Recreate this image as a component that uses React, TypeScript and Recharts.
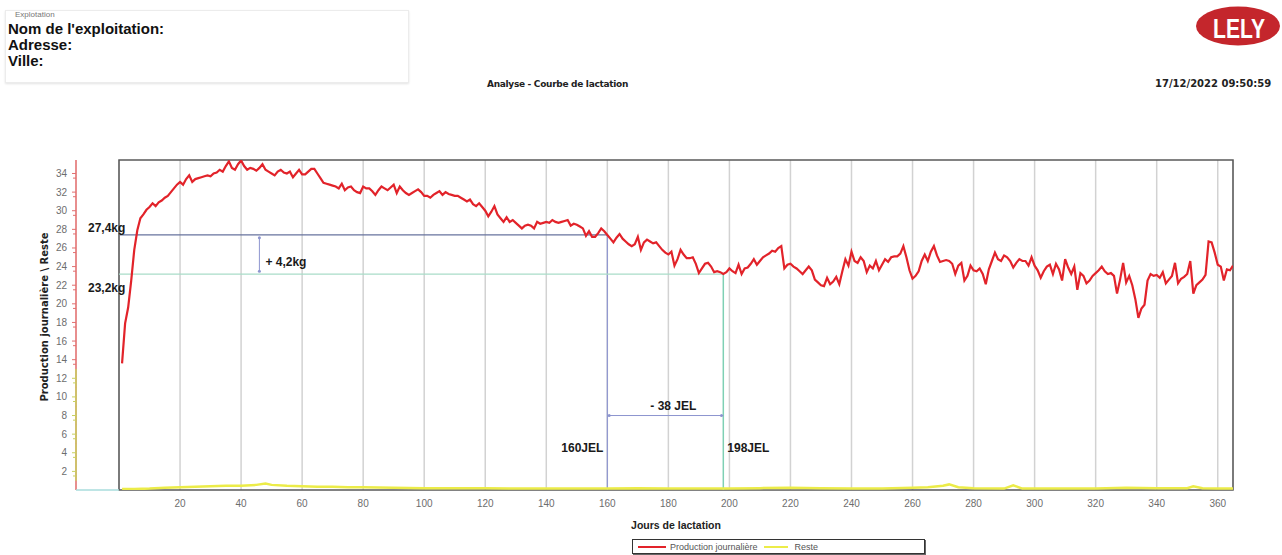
import React from "react";
import {
  CartesianGrid,
  Legend,
  Line,
  LineChart,
  ReferenceArea,
  ReferenceDot,
  ReferenceLine,
  XAxis,
  YAxis,
} from "recharts";

// daily production (kg), day 1 .. 365
const production = [
  13.6, 17.9, 19.6, 22.5, 25.8, 27.9, 29.2, 29.6, 30.1, 30.4,
  30.8, 30.5, 30.9, 31.1, 31.4, 31.6, 32.0, 32.4, 32.8, 33.1,
  32.8, 33.4, 33.8, 33.1, 33.4, 33.5, 33.6, 33.7, 33.8, 33.7,
  34.0, 34.1, 34.4, 34.2, 34.8, 35.3, 34.6, 34.4, 35.0, 35.4,
  34.8, 34.4, 34.6, 34.5, 34.3, 34.6, 35.0, 34.4, 34.2, 34.0,
  33.8, 34.2, 34.4, 34.1, 34.0, 34.2, 33.6, 34.0, 34.4, 33.9,
  33.9, 34.2, 34.5, 34.5, 34.0, 33.5, 33.0, 32.9, 32.8, 32.7,
  32.6, 32.4, 32.9, 32.2, 32.5, 32.6, 32.2, 32.0, 31.9, 32.6,
  32.4, 32.4, 32.1, 31.7, 32.2, 32.6, 32.4, 32.2, 32.5, 32.8,
  31.9, 32.6, 32.2, 31.9, 31.7, 31.9, 32.1, 32.3, 32.0, 31.6,
  31.6, 31.4, 31.7, 31.9, 32.1, 31.7, 32.0, 31.8, 31.7, 31.6,
  31.6, 31.4, 31.2, 31.0, 31.2, 30.7, 30.5, 30.8, 30.4, 30.0,
  29.4, 29.9, 30.5, 29.6, 29.2, 28.8, 29.3, 28.8, 29.0, 28.7,
  28.4, 28.1, 28.4, 28.5, 28.4, 28.1, 28.8, 28.6, 28.7, 28.8,
  28.7, 29.0, 28.8, 28.7, 28.8, 28.9, 29.0, 28.4, 28.6, 28.5,
  28.3, 28.1, 27.3, 27.8, 27.2, 27.2, 27.6, 28.1, 27.8, 27.4,
  27.0, 26.6, 27.1, 27.5, 27.0, 26.7, 26.4, 26.2, 26.4, 27.2,
  25.8, 26.6, 26.9, 26.7, 26.5, 26.6, 26.2, 25.8, 25.5, 25.3,
  25.6, 24.1, 24.8, 25.8, 25.3, 24.9, 24.9, 25.0, 24.3, 23.3,
  23.8, 24.3, 24.4, 24.0, 23.4, 23.5, 23.4, 23.2, 23.4, 23.8,
  23.5, 23.3, 24.2, 23.2, 23.8, 23.9, 24.3, 24.8, 24.2, 24.6,
  25.0, 25.2, 25.4, 25.7, 25.6, 26.0, 26.2, 23.8, 24.2, 24.3,
  24.0, 23.8, 23.5, 23.2, 23.6, 24.0, 23.6, 22.6, 22.3, 22.0,
  21.9, 22.8, 22.1, 22.4, 22.9, 22.1, 23.5, 24.8, 24.1, 25.6,
  24.6, 24.4, 25.0, 24.6, 23.4, 24.1, 23.8, 24.6, 23.6, 24.2,
  24.8, 24.5, 25.0, 25.1, 25.1, 25.4, 26.2, 25.0, 23.6, 22.7,
  23.0, 23.5, 24.6, 25.3, 24.6, 25.6, 26.2, 25.2, 24.5, 24.6,
  24.7, 24.6, 24.3, 23.2, 24.1, 24.4, 22.5, 23.0, 24.1, 23.6,
  23.5, 23.8, 23.2, 22.1, 23.7, 24.6, 25.5, 24.8, 24.6, 25.2,
  25.0, 24.6, 23.9, 24.4, 24.8, 24.6, 24.6, 24.1, 25.0, 24.1,
  23.6, 22.8, 23.5, 24.0, 24.2, 23.2, 24.3, 23.7, 22.5, 24.8,
  23.9, 23.2, 24.0, 21.5, 23.3, 23.0, 22.2, 22.5, 23.0, 23.3,
  23.6, 24.0, 23.5, 23.2, 23.3, 23.0, 21.1, 22.6, 24.4, 22.3,
  23.0, 22.0, 20.5, 18.5, 19.5, 19.9, 22.5, 23.2, 23.0, 23.1,
  22.8, 23.4, 22.2, 22.6, 23.0, 24.4, 22.2, 22.7, 22.9, 23.2,
  24.6, 21.1, 22.0, 22.3, 22.6, 23.1, 26.7, 26.6, 25.5, 24.2,
  24.0, 22.5, 23.7, 23.6, 24.1,
];

// feed left over (kg)
const resteDays = [
  1, 5, 10, 15, 20, 25, 30, 35, 40, 45, 48, 50, 55, 60, 65, 70, 75, 80, 90,
  100, 110, 120, 130, 140, 150, 160, 170, 180, 190, 200, 210, 220, 230, 240,
  250, 260, 265, 270, 272, 275, 280, 290, 293, 296, 300, 310, 320, 330, 340,
  345, 350, 352, 355, 360, 365,
];
const reste = [
  0.1, 0.1, 0.15, 0.25, 0.3, 0.35, 0.4, 0.45, 0.45, 0.55, 0.7, 0.55, 0.45,
  0.4, 0.35, 0.35, 0.3, 0.3, 0.25, 0.2, 0.2, 0.2, 0.15, 0.15, 0.15, 0.15, 0.2,
  0.15, 0.15, 0.15, 0.2, 0.25, 0.2, 0.15, 0.15, 0.25, 0.3, 0.45, 0.6, 0.3,
  0.2, 0.15, 0.5, 0.15, 0.15, 0.15, 0.15, 0.25, 0.2, 0.2, 0.2, 0.4, 0.2, 0.15,
  0.15,
];

const xTicks = [20, 40, 60, 80, 100, 120, 140, 160, 180, 200, 220, 240, 260, 280, 300, 320, 340, 360];
const yTicks = [0, 2, 4, 6, 8, 10, 12, 14, 16, 18, 20, 22, 24, 26, 28, 30, 32, 34];

// annotations
const peakKg = 27.4;
const targetKg = 23.2;
const dayA = 160;
const dayB = 198;
const diffKgLabel = "+ 4,2kg";
const diffDaysLabel = "- 38 JEL";

const data = production.map((v, i) => {
  const day = i + 1;
  const k = resteDays.indexOf(day);
  return { day, production: v, reste: k >= 0 ? reste[k] : null };
});

const FONT = "'Liberation Sans', Arial, sans-serif";
const BOLD_SMALL = "'DejaVu Sans', Verdana, sans-serif";
const RED = "#e2232a";
const YELLOW = "#ecec48";
const Y = "prod";

const YTick = (props: any) => {
  const { x, y, payload } = props;
  const axisX = x + 6;
  if (payload.value === 0) {
    return <line x1={axisX} x2={axisX + 43} y1={y} y2={y} stroke="#a8dcdc" strokeWidth={1.5} />;
  }
  const low = payload.value <= 12;
  const c = low ? "#c8d060" : "#e07070";
  return (
    <g>
      <line x1={axisX - 4} x2={axisX} y1={y} y2={y} stroke={c} />
      <line x1={axisX - 3} x2={axisX} y1={y + 4.6} y2={y + 4.6} stroke={c} />
      {low && <line x1={axisX} x2={axisX} y1={y - 9.3} y2={y + 9.3} stroke="#c8d060" strokeWidth={1.5} />}
      <text x={x - 3} y={y} dy={3.5} textAnchor="end" fill="#6d6d6d" fontSize={10} fontFamily={FONT}>
        {payload.value}
      </text>
    </g>
  );
};

const textAt = (text: string, dx: number, dy: number, anchor: string, size = 12) =>
  ({ viewBox }: any) => (
    <text
      x={viewBox.x + dx}
      y={viewBox.y + dy}
      textAnchor={anchor}
      fontSize={size}
      fontWeight="bold"
      fontFamily={FONT}
      fill="#1a1a1a"
    >
      {text}
    </text>
  );

const LegendBox = () => (
  <div
    style={{
      display: "flex",
      alignItems: "center",
      border: "1px solid #333",
      boxShadow: "1px 1px 0 #666",
      height: 13,
      width: 291,
      fontFamily: FONT,
      fontSize: 9,
      color: "#555",
      background: "#fff",
    }}
  >
    <span style={{ display: "inline-block", width: 28, height: 2, background: RED, margin: "0 4px 0 5px" }} />
    <span>Production journalière</span>
    <span style={{ display: "inline-block", width: 24, height: 2, background: YELLOW, margin: "0 7px 0 6px" }} />
    <span>Reste</span>
  </div>
);

export default function App() {
  return (
    <div style={{ position: "absolute", left: 0, top: 0, width: 1282, height: 555, background: "#fff", fontFamily: FONT }}>
      <div
        style={{
          position: "absolute",
          left: 5,
          top: 10,
          width: 402,
          height: 71,
          border: "1px solid #ececec",
          boxShadow: "0 1px 2px #e4e4e4",
        }}
      >
        <div style={{ position: "absolute", left: 9, top: -1, fontSize: 8, color: "#777" }}>Explotation</div>
        <div style={{ position: "absolute", left: 2, top: 10, fontSize: 15, fontWeight: "bold", color: "#111", lineHeight: "16px" }}>
          Nom de l'exploitation:
          <br />
          Adresse:
          <br />
          Ville:
        </div>
      </div>
      <div style={{ position: "absolute", left: 487, top: 79, fontSize: 9, fontWeight: "bold", color: "#222", fontFamily: BOLD_SMALL, letterSpacing: -0.3 }}>
        Analyse - Courbe de lactation
      </div>
      <div style={{ position: "absolute", left: 1155, top: 78, fontSize: 10, fontWeight: "bold", color: "#222", fontFamily: BOLD_SMALL }}>
        17/12/2022 09:50:59
      </div>
      <svg style={{ position: "absolute", left: 1194, top: 5 }} width={88} height={42}>
        <ellipse cx={44} cy={21} rx={42} ry={19.5} fill="#c4262c" />
        <text
          x={45}
          y={33}
          textAnchor="middle"
          fill="#fff"
          fontSize={28}
          fontWeight="bold"
          fontFamily="'Liberation Sans Narrow', 'Liberation Sans', Arial"
          textLength={52}
          lengthAdjust="spacingAndGlyphs"
        >
          LELY
        </text>
      </svg>

      <div style={{ position: "absolute", left: 0, top: 0 }}>
        <LineChart width={1282} height={555} data={data} margin={{ top: 160, right: 49, bottom: 10, left: 0 }}>
          <YAxis yAxisId="gap" width={43} type="number" domain={[0, 1]} tick={false} axisLine={false} tickLine={false} />
          <YAxis
            yAxisId={Y}
            width={76}
            type="number"
            domain={[0, 35.45]}
            ticks={yTicks}
            interval={0}
            tick={<YTick />}
            tickLine={false}
            tickSize={0}
            tickMargin={6}
            axisLine={{ stroke: "#e06868", strokeWidth: 1.5 }}
            allowDataOverflow
            label={{
              content: ({ viewBox }: any) => (
                <text
                  x={viewBox.x + 48}
                  y={viewBox.y + viewBox.height / 2 - 8}
                  transform={`rotate(-90, ${viewBox.x + 48}, ${viewBox.y + viewBox.height / 2 - 8})`}
                  textAnchor="middle"
                  fontSize={10}
                  fontWeight="bold"
                  fontFamily={BOLD_SMALL}
                  fill="#222"
                >
                  Production journalière \ Reste
                </text>
              ),
            }}
          />
          <XAxis
            dataKey="day"
            type="number"
            domain={[0, 365]}
            ticks={xTicks}
            interval={0}
            height={40}
            tickLine={false}
            axisLine={false}
            tick={{ fill: "#6d6d6d", fontSize: 10, fontFamily: FONT }}
            tickMargin={4}
            allowDataOverflow
            label={{
              content: ({ viewBox }: any) => (
                <text
                  x={viewBox.x + viewBox.width / 2}
                  y={viewBox.y + 39}
                  textAnchor="middle"
                  fontSize={10.5}
                  fontWeight="bold"
                  fontFamily={FONT}
                  fill="#222"
                >
                  Jours de lactation
                </text>
              ),
            }}
          />
          <CartesianGrid yAxisId={Y} horizontal={false} stroke="#d2d2d2" strokeWidth={1.5} />
          <Legend
            verticalAlign="bottom"
            content={<LegendBox />}
            wrapperStyle={{ left: 632, top: 539, bottom: "auto", width: "auto" }}
          />

          <ReferenceLine yAxisId={Y} segment={[{ x: 0, y: peakKg }, { x: dayA, y: peakKg }]} stroke="#67739e" strokeWidth={1.2} />
          <ReferenceLine yAxisId={Y} segment={[{ x: dayA, y: 0 }, { x: dayA, y: peakKg }]} stroke="#8d95cf" strokeWidth={1.2} />
          <ReferenceLine yAxisId={Y} segment={[{ x: 0, y: targetKg }, { x: dayB, y: targetKg }]} stroke="#a9dcc8" strokeWidth={1.2} />
          <ReferenceLine yAxisId={Y} segment={[{ x: dayB, y: 0 }, { x: dayB, y: targetKg }]} stroke="#7fd0b4" strokeWidth={1.5} />
          <ReferenceLine yAxisId={Y} segment={[{ x: 46, y: 27.1 }, { x: 46, y: 23.5 }]} stroke="#8d95cf" strokeWidth={1} />
          <ReferenceLine yAxisId={Y} segment={[{ x: dayA, y: 8 }, { x: dayB, y: 8 }]} stroke="#8d95cf" strokeWidth={1} />
          <ReferenceDot yAxisId={Y} x={46} y={27.1} r={1.5} fill="#8d95cf" stroke="none" />
          <ReferenceDot yAxisId={Y} x={46} y={23.5} r={1.5} fill="#8d95cf" stroke="none" />
          <ReferenceDot yAxisId={Y} x={dayA + 0.6} y={8} r={1.5} fill="#8d95cf" stroke="none" />
          <ReferenceDot yAxisId={Y} x={dayB - 0.6} y={8} r={1.5} fill="#8d95cf" stroke="none" />

          <ReferenceArea
            yAxisId={Y}
            x1={0}
            x2={365}
            y1={0}
            y2={35.45}
            fill="none"
            stroke="#5a5a5a"
            strokeWidth={1.5}
          />

          <Line yAxisId={Y} dataKey="reste" stroke={YELLOW} strokeWidth={2.5} dot={false} connectNulls isAnimationActive={false} />
          <Line yAxisId={Y} dataKey="production" stroke={RED} strokeWidth={2.2} dot={false} isAnimationActive={false} />

          <ReferenceDot yAxisId={Y} x={0} y={peakKg} r={0} label={{ content: textAt("27,4kg", -31, -3, "start") }} />
          <ReferenceDot yAxisId={Y} x={0} y={targetKg} r={0} label={{ content: textAt("23,2kg", -31, 17.5, "start") }} />
          <ReferenceDot yAxisId={Y} x={46} y={25.3} r={0} label={{ content: textAt(diffKgLabel, 6, 12, "start") }} />
          <ReferenceDot yAxisId={Y} x={dayA} y={8} r={0} label={{ content: textAt(diffDaysLabel, 66, -6, "middle") }} />
          <ReferenceDot yAxisId={Y} x={dayA} y={4.5} r={0} label={{ content: textAt("160JEL", -4, 4, "end") }} />
          <ReferenceDot yAxisId={Y} x={dayB} y={4.5} r={0} label={{ content: textAt("198JEL", 4, 4, "start") }} />
        </LineChart>
      </div>
    </div>
  );
}
